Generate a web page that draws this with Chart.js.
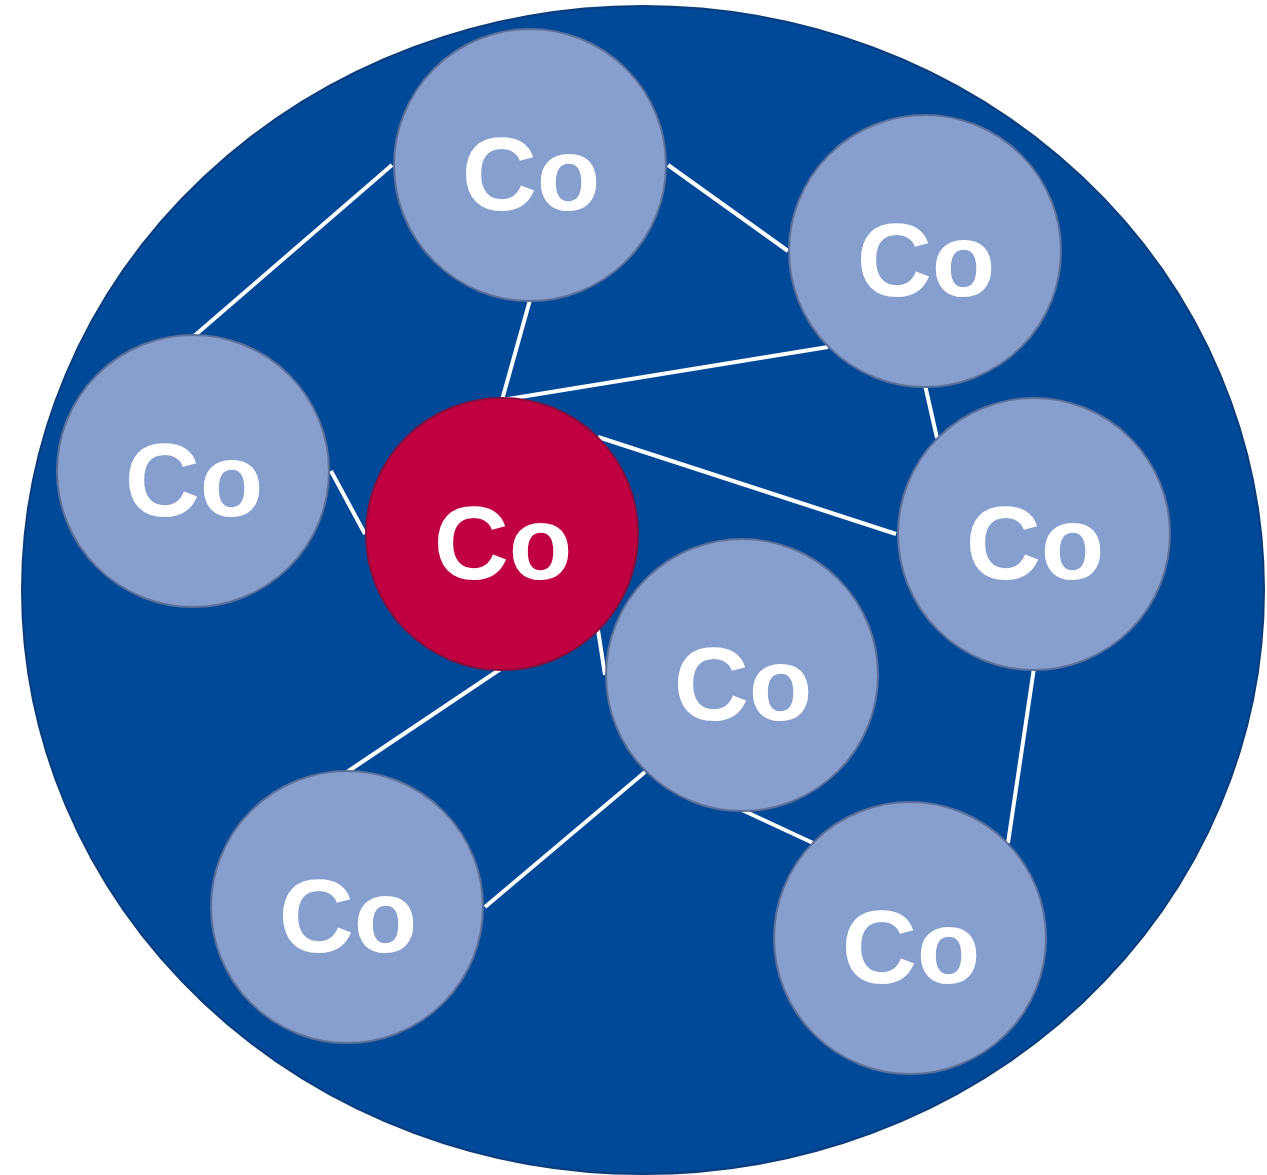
<!DOCTYPE html>
<html>
<head>
<meta charset="utf-8">
<script src="https://cdn.jsdelivr.net/npm/chart.js@4.4.0/dist/chart.umd.min.js"></script>
<style>
  html, body { margin: 0; padding: 0; background: #ffffff; }
  #wrap { width: 1267px; height: 1175px; }
</style>
</head>
<body>
<div id="wrap"><canvas id="canvas" width="1267" height="1175"></canvas></div>
<script>
// atoms (centre x, centre y in picture units)
var labels = ['Co', 'Co', 'Co', 'Co', 'Co', 'Co', 'Co', 'Co'];
var atomX = [530, 925, 193, 502, 1034, 742, 347, 910];
var atomY = [165, 251, 471, 534, 534, 675, 907, 938];
var central = [false, false, false, true, false, false, false, false];

// cluster outline (centre and half axes)
var clusterX = 643, clusterY = 590, clusterRx = 621, clusterRy = 584;

// bonds, edge to edge: [x1, y1, x2, y2]
var bonds = [
  [392, 165, 193, 337],
  [668, 165, 788, 251],
  [530, 300, 502, 400],
  [502, 400, 828, 347],
  [925, 385, 937, 438],
  [598, 437, 896, 534],
  [331, 471, 365, 534],
  [598, 630, 605, 675],
  [502, 668, 347, 772],
  [645, 772, 485, 907],
  [742, 810, 813, 843],
  [1034, 668, 1008, 843]
];

var nodes = atomX.map(function(x, i) {
  return { x: x, y: atomY[i], r: 136 };
});

var bondPts = [];
bonds.forEach(function(b) {
  bondPts.push({ x: b[0], y: b[1] });
  bondPts.push({ x: b[2], y: b[3] });
  bondPts.push({ x: b[2], y: null });
});

var clusterPlugin = {
  id: 'cluster',
  beforeDatasetsDraw: function(chart) {
    var ctx = chart.ctx, xs = chart.scales.x, ys = chart.scales.y;
    var cx = xs.getPixelForValue(clusterX), cy = ys.getPixelForValue(clusterY);
    var rx = Math.abs(xs.getPixelForValue(clusterX + clusterRx) - cx);
    var ry = Math.abs(ys.getPixelForValue(clusterY + clusterRy) - cy);
    ctx.save();
    ctx.beginPath();
    ctx.ellipse(cx, cy, rx, ry, 0, 0, Math.PI * 2);
    ctx.fillStyle = '#004898';
    ctx.fill();
    ctx.lineWidth = 2;
    ctx.strokeStyle = '#0B3C7C';
    ctx.stroke();
    ctx.restore();
  },
  afterDatasetsDraw: function(chart) {
    var ctx = chart.ctx;
    var meta = chart.getDatasetMeta(0);
    ctx.save();
    ctx.fillStyle = '#ffffff';
    ctx.font = 'bold 104px "Liberation Sans", Arial, sans-serif';
    ctx.textAlign = 'center';
    ctx.textBaseline = 'alphabetic';
    meta.data.forEach(function(el, i) {
      ctx.fillText(labels[i], el.x + 1, el.y + 45);
    });
    ctx.restore();
  }
};

var ctxL = document.getElementById('canvas').getContext('2d');
var mychart = new Chart(ctxL, {
  type: 'bubble',
  data: {
    datasets: [{
        label: 'atoms',
        data: nodes,
        backgroundColor: central.map(function(c) { return c ? '#C00040' : '#879FCF'; }),
        borderColor: central.map(function(c) { return c ? '#8C0C3C' : '#5E6F98'; }),
        borderWidth: 2,
        hoverRadius: 0,
        clip: false
      },
      {
        type: 'scatter',
        label: 'bonds',
        data: bondPts,
        showLine: true,
        spanGaps: false,
        borderColor: '#ffffff',
        borderWidth: 4,
        pointRadius: 0,
        pointHoverRadius: 0,
        clip: false
      }
    ]
  },
  options: {
    responsive: false,
    animation: false,
    events: [],
    layout: { padding: 0 },
    plugins: { legend: { display: false }, tooltip: { enabled: false } },
    scales: {
      x: { type: 'linear', min: 0, max: 1267, display: false },
      y: { type: 'linear', min: 0, max: 1175, reverse: true, display: false }
    }
  },
  plugins: [clusterPlugin]
});

// bubbles pad the chart area by their radius; stretch the scales so one unit = one pixel
var area = mychart.chartArea;
mychart.options.scales.x.min = area.left;
mychart.options.scales.x.max = area.right;
mychart.options.scales.y.min = area.top;
mychart.options.scales.y.max = area.bottom;
mychart.update();
</script>
</body>
</html>
